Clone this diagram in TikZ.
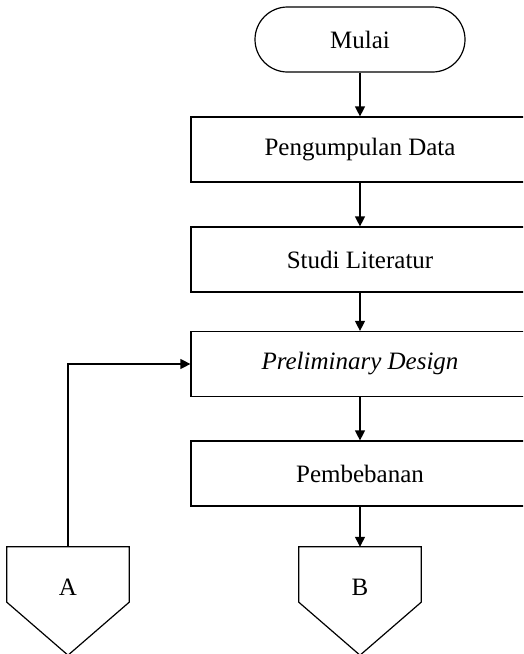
\documentclass[tikz,border=0pt]{standalone}
\usepackage{fontspec}
\setmainfont{Liberation Serif}
\usetikzlibrary{arrows.meta,calc}
\begin{document}
\begin{tikzpicture}[x=1pt,y=-1pt,
  every node/.style={font=\fontsize{25}{30}\selectfont},
  process/.style={draw, line width=1.2pt, minimum width=338pt, minimum height=65pt, inner sep=0pt},
  terminal/.style={draw, line width=1.2pt, rounded corners=32.5pt, minimum width=210pt, minimum height=65pt, inner sep=0pt},
  offpagebox/.style={minimum width=122pt, minimum height=55pt, inner sep=0pt},
  offpageline/.style={line width=1.2pt, line join=miter},
  flow/.style={line width=1.2pt, -{Triangle[length=10pt,width=10pt]}},
]
\clip (0,0) rectangle (523,654);

\node[terminal] (mulai) at (360,39.5) {Mulai};
\node[process] (data) at (360,149.5) {Pengumpulan Data};
\node[process] (studi) at (360,259.5) {Studi Literatur};
\node[process] (prelim) at (360,364) {\textit{Preliminary Design}};
\node[process] (beban) at (360,473.5) {Pembebanan};

% off-page connectors
\node[offpagebox] (A) at (68,574.5) {};
\node[offpagebox] (B) at (360,574.5) {};
\draw[offpageline] (A.south west) -- (A.north west) -- (A.north east) -- (A.south east) -- ($(A.south)+(0,53)$) -- cycle;
\draw[offpageline] (B.south west) -- (B.north west) -- (B.north east) -- (B.south east) -- ($(B.south)+(0,53)$) -- cycle;
\node (Alabel) at ($(A)+(0,13)$) {A};
\node (Blabel) at ($(B)+(0,13)$) {B};

\draw[flow] (mulai) -- (data);
\draw[flow] (data) -- (studi);
\draw[flow] (studi) -- (prelim);
\draw[flow] (prelim) -- (beban);
\draw[flow] (beban) -- (B);
\draw[flow] (A.north) |- (prelim.west);
\end{tikzpicture}
\end{document}
